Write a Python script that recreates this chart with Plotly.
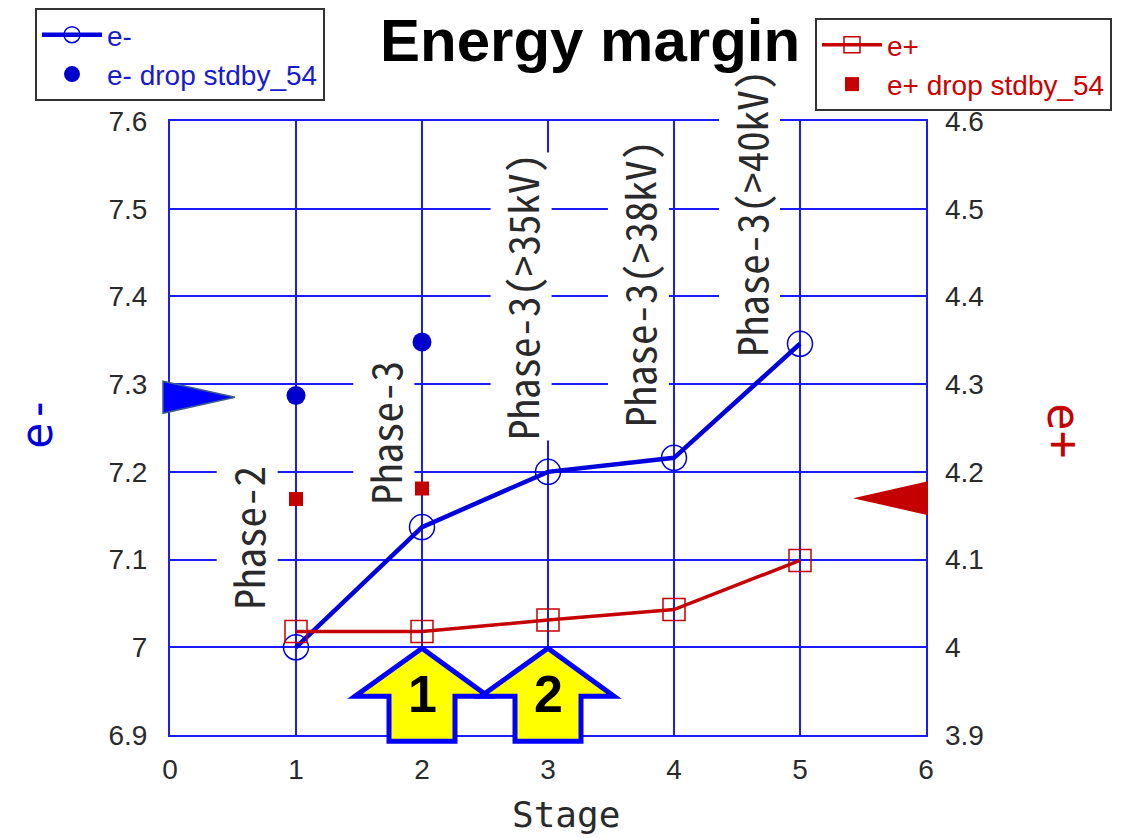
import plotly.graph_objects as go

# ---------------- data ----------------
stages = [1, 2, 3, 4, 5]
e_minus = [7.000, 7.137, 7.200, 7.216, 7.346]
e_plus = [4.018, 4.018, 4.031, 4.043, 4.099]

drop_stages = [1, 2]
e_minus_drop = [7.287, 7.348]
e_plus_drop = [4.169, 4.181]

phase_labels = ["Phase-2", "Phase-3", "Phase-3(>35kV)", "Phase-3(>38kV)", "Phase-3(>40kV)"]
phase_x = [0.61, 1.70, 2.79, 3.72, 4.60]
phase_y = [7.125, 7.245, 7.400, 7.415, 7.495]

x_ticks = [0, 1, 2, 3, 4, 5, 6]
left_ticks = [6.9, 7.0, 7.1, 7.2, 7.3, 7.4, 7.5, 7.6]
left_tick_text = ["6.9", "7", "7.1", "7.2", "7.3", "7.4", "7.5", "7.6"]
right_ticks = [3.9, 4.0, 4.1, 4.2, 4.3, 4.4, 4.5, 4.6]
right_tick_text = ["3.9", "4", "4.1", "4.2", "4.3", "4.4", "4.5", "4.6"]

e_minus_target = 7.285
e_plus_target = 4.17
step_arrow_x = [2, 3]
step_arrow_text = ["1", "2"]

# ---------------- geometry helpers (page pixels) ----------------
OFF = 8                      # default body margin of the html page
W_FIG, H_FIG = 1127 - OFF, 838 - OFF
L, T, PW, PH = 170, 121, 756, 614   # plot area in page pixels
XR = (0, 6)
YL = (6.9, 7.6)
YR = (3.9, 4.6)

def xpx(v):
    return L + (v - XR[0]) / (XR[1] - XR[0]) * PW

def ypx_l(v):
    return T + (YL[1] - v) / (YL[1] - YL[0]) * PH

def ypx_r(v):
    return T + (YR[1] - v) / (YR[1] - YR[0]) * PH

def px2x(p):
    return (p - L) / PW

def py2y(p):
    return (T + PH - p) / PH

def path(points):
    return "M " + " L ".join(f"{px2x(a):.5f},{py2y(b):.5f}" for a, b in points) + " Z"

BLUE = "#0000dd"
GRID = "#1a1aff"
RED = "#c40000"
MONO = "Noto Sans Mono CJK JP, Noto Sans CJK JP, DejaVu Sans Mono, monospace"
MONO2 = "DejaVu Sans Mono, Liberation Mono, monospace"
SANS = "Liberation Sans, Arial, sans-serif"
TXT = "#2a2a2a"

fig = go.Figure()

fig.add_trace(go.Scatter(
    x=stages, y=e_minus, name="e-", mode="lines+markers",
    line=dict(color=BLUE, width=4.5),
    marker=dict(symbol="circle-open", size=25, color=BLUE, line=dict(width=1.5, color=BLUE)),
    legend="legend", yaxis="y",
))
fig.add_trace(go.Scatter(
    x=drop_stages, y=e_minus_drop, name="e- drop stdby_54", mode="markers",
    marker=dict(symbol="circle", size=19, color="#0000cc"),
    legend="legend", yaxis="y",
))
fig.add_trace(go.Scatter(
    x=stages, y=e_plus, name="e+", mode="lines+markers",
    line=dict(color=RED, width=3.5),
    marker=dict(symbol="square-open", size=22, color=RED, line=dict(width=1.5, color=RED)),
    legend="legend2", yaxis="y2",
))
fig.add_trace(go.Scatter(
    x=drop_stages, y=e_plus_drop, name="e+ drop stdby_54", mode="markers",
    marker=dict(symbol="square", size=14, color=RED),
    legend="legend2", yaxis="y2",
))

shapes = []
annotations = []

# target triangles
by = ypx_l(e_minus_target)
shapes.append(dict(type="path", xref="paper", yref="paper", layer="above",
                   path=path([(163, by - 16), (235, by), (163, by + 16)]),
                   fillcolor="#0000ff", line=dict(color="#3a5f8f", width=1.5)))
ry = ypx_r(e_plus_target)
shapes.append(dict(type="path", xref="paper", yref="paper", layer="above",
                   path=path([(928, ry - 17), (853, ry), (928, ry + 17)]),
                   fillcolor=RED, line=dict(color=RED, width=0)))

# red vertical line at far left
shapes.append(dict(type="line", xref="paper", yref="paper", layer="above",
                   x0=px2x(2), x1=px2x(2), y0=py2y(60), y1=py2y(680),
                   line=dict(color="#ff0000", width=2)))

# step arrows
for sx, st in zip(step_arrow_x, step_arrow_text):
    tx = xpx(sx)
    ty = ypx_l(7.0) + 1
    pts = [(tx, ty), (tx + 66, ty + 48), (tx + 33, ty + 48), (tx + 33, ty + 93),
           (tx - 33, ty + 93), (tx - 33, ty + 48), (tx - 67, ty + 48)]
    shapes.append(dict(type="path", xref="paper", yref="paper", layer="above",
                       path=path(pts), fillcolor="#ffff00", line=dict(color="#0000ff", width=5)))
    annotations.append(dict(xref="paper", yref="paper", x=px2x(tx), y=py2y(ty + 46),
                            text=f"<b>{st}</b>", showarrow=False,
                            font=dict(family=SANS, size=52, color="black"),
                            xanchor="center", yanchor="middle"))

# phase labels
for lab, px_, py_ in zip(phase_labels, phase_x, phase_y):
    annotations.append(dict(xref="x", yref="y", x=px_, y=py_, text=lab, showarrow=False,
                            textangle=-90, bgcolor="white", borderpad=0,
                            font=dict(family=MONO, size=41, color=TXT),
                            xanchor="center", yanchor="middle"))

# titles
annotations.append(dict(xref="paper", yref="paper", x=px2x(590), y=py2y(41),
                        text="Energy margin", showarrow=False,
                        font=dict(family=SANS, size=60, color="black", weight="bold"),
                        xanchor="center", yanchor="middle"))
annotations.append(dict(xref="paper", yref="paper", x=px2x(566), y=py2y(837),
                        text="Stage", showarrow=False,
                        font=dict(family=MONO2, size=36, color=TXT),
                        xanchor="center", yanchor="bottom"))
annotations.append(dict(xref="paper", yref="paper", x=px2x(36), y=py2y(423),
                        text="e-", showarrow=False, textangle=-90,
                        font=dict(family=MONO2, size=44, color=BLUE),
                        xanchor="center", yanchor="middle"))
annotations.append(dict(xref="paper", yref="paper", x=px2x(1064), y=py2y(430),
                        text="e+", showarrow=False, textangle=90,
                        font=dict(family=MONO2, size=46, color=RED),
                        xanchor="center", yanchor="middle"))

axis_common = dict(showgrid=True, gridcolor=GRID, gridwidth=2, zeroline=False,
                   showline=True, linecolor=GRID, linewidth=2, mirror=True, ticks="",
                   tickfont=dict(family=SANS, size=28, color=TXT))

fig.update_layout(
    width=W_FIG, height=H_FIG,
    margin=dict(l=L - OFF, r=W_FIG - (L - OFF) - PW, t=T - OFF,
                b=H_FIG - (T - OFF) - PH, autoexpand=False),
    paper_bgcolor="white", plot_bgcolor="white",
    xaxis=dict(range=list(XR), tickvals=x_ticks, ticklabelstandoff=8, **axis_common),
    yaxis=dict(range=list(YL), tickvals=left_ticks, ticktext=left_tick_text,
               ticklabelstandoff=15, **axis_common),
    yaxis2=dict(range=list(YR), tickvals=right_ticks, ticktext=right_tick_text,
                overlaying="y", side="right", showgrid=False, zeroline=False,
                showline=False, ticks="", ticklabelstandoff=18,
                tickfont=dict(family=SANS, size=28, color=TXT)),
    legend=dict(x=px2x(35), y=py2y(8), xanchor="left", yanchor="top",
                bgcolor="white", bordercolor="#333333", borderwidth=2, itemwidth=60,
                font=dict(family=SANS, size=28, color="#1a1acc"), tracegroupgap=0),
    legend2=dict(x=px2x(815), y=py2y(18), xanchor="left", yanchor="top",
                 bgcolor="white", bordercolor="#333333", borderwidth=2, itemwidth=60,
                 font=dict(family=SANS, size=28, color="#cc0000"), tracegroupgap=0),
    shapes=shapes, annotations=annotations,
)

fig.write_html("out.html")
